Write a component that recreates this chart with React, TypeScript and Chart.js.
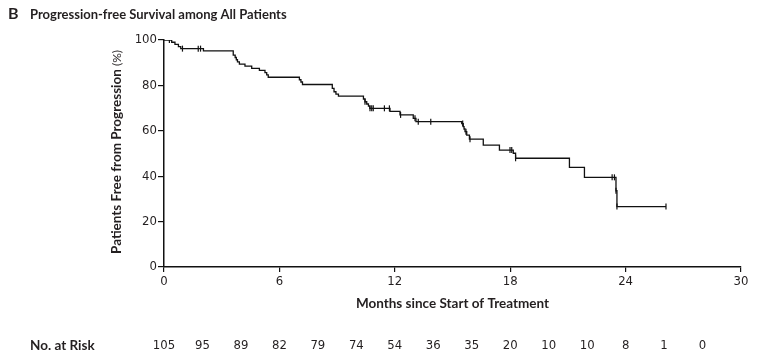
import React, { useEffect, useRef } from "react";
import { Chart, registerables } from "chart.js";

Chart.register(...registerables);

// ---- data ----
const stepTimes = [0, 0.40, 0.57, 0.75, 0.87, 2.05, 3.60, 3.70, 3.76, 3.82, 3.92, 4.21, 4.56, 4.96, 5.25, 5.34, 5.42, 7.04, 7.12, 7.20, 8.75, 8.84, 8.94, 9.07, 10.37, 10.45, 10.54, 10.63, 10.70, 11.75, 12.27, 12.96, 13.10, 15.48, 15.56, 15.60, 15.65, 15.74, 15.88, 16.60, 17.44, 18.16, 18.28, 21.08, 21.86, 23.50, 23.55, 26.10];
const stepSurvival = [100, 99.0, 98.1, 97.1, 96.2, 95.2, 93.3, 92.3, 91.3, 90.4, 89.4, 88.5, 87.5, 86.6, 85.6, 84.6, 83.6, 82.5, 81.5, 80.4, 78.7, 77.2, 76.2, 75.3, 74.0, 72.8, 71.8, 70.9, 69.9, 68.6, 67.0, 65.5, 64.0, 63.2, 61.8, 60.8, 59.6, 58.1, 56.3, 53.7, 51.5, 50.1, 47.9, 43.9, 39.5, 33.6, 26.6, 26.6];

const censorTimes = [0.28, 0.96, 1.78, 1.90, 10.45, 10.71, 10.80, 10.88, 11.46, 11.72, 12.30, 13.05, 13.22, 13.87, 15.53, 15.70, 15.91, 17.99, 18.08, 18.28, 23.30, 23.42, 23.50, 23.55, 26.10];
const censorSurvival = [100, 96.2, 96.2, 96.2, 72.8, 69.9, 69.9, 69.9, 69.9, 69.9, 67.0, 65.5, 64.0, 64.0, 63.2, 59.6, 56.3, 51.5, 51.5, 47.9, 39.5, 39.5, 33.6, 26.6, 26.6];

const riskMonths = [0, 2, 4, 6, 8, 10, 12, 14, 16, 18, 20, 22, 24, 26, 28];
const riskCounts = [105, 95, 89, 82, 79, 74, 54, 36, 35, 20, 10, 10, 8, 1, 0];

const panelLetter = "B";
const titleText = "Progression-free Survival among All Patients";
const xTitle = "Months since Start of Treatment";
const yTitleBold = "Patients Free from Progression";
const yTitleNormal = " (%)";
const riskLabel = "No. at Risk";

const NARROW = "'Liberation Sans Narrow', 'DejaVu Sans Condensed', 'Arial Narrow', sans-serif";
const BOLD = "Lato, 'Open Sans', sans-serif";
const INK = "#231f20";

const textPlugin = {
  id: "kmText",
  afterDraw(chart: any) {
    const ctx = chart.ctx as CanvasRenderingContext2D;
    const xs = chart.scales.x;
    ctx.save();
    ctx.fillStyle = INK;
    ctx.textBaseline = "alphabetic";
    ctx.textAlign = "left";
    ctx.font = `bold 16px ${BOLD}`;
    ctx.fillText(panelLetter, 8, 19);
    ctx.font = `bold 13px ${BOLD}`;
    ctx.fillText(titleText, 30, 19);

    ctx.textAlign = "center";
    ctx.font = `bold 13.5px ${BOLD}`;
    ctx.fillText(xTitle, (xs.left + xs.right) / 2, 308);

    // y title
    ctx.save();
    ctx.translate(117, 152);
    ctx.rotate(-Math.PI / 2);
    ctx.textBaseline = "middle";
    ctx.font = `bold 13.5px ${BOLD}`;
    const wb = ctx.measureText(yTitleBold).width;
    ctx.font = `12px ${BOLD}`;
    const wn = ctx.measureText(yTitleNormal).width;
    const start = -(wb + wn) / 2;
    ctx.textAlign = "left";
    ctx.font = `bold 13.5px ${BOLD}`;
    ctx.fillText(yTitleBold, start, 0);
    ctx.font = `12px ${BOLD}`;
    ctx.fillText(yTitleNormal, start + wb, 0);
    ctx.restore();

    // risk table
    ctx.textBaseline = "middle";
    ctx.textAlign = "left";
    ctx.font = `bold 13.5px ${BOLD}`;
    ctx.fillText(riskLabel, 30, 346);
    ctx.textAlign = "center";
    ctx.font = `13px ${NARROW}`;
    riskMonths.forEach((m, i) => {
      ctx.fillText(String(riskCounts[i]), xs.getPixelForValue(m), 346);
    });
    ctx.restore();
  },
};

export default function App() {
  const ref = useRef<HTMLCanvasElement>(null);
  useEffect(() => {
    document.body.style.margin = "0";
    const canvas = ref.current!;
    const chart = new Chart(canvas, {
      type: "line",
      data: {
        datasets: [
          {
            data: stepTimes.map((t, i) => ({ x: t, y: stepSurvival[i] })),
            borderColor: "#111",
            borderWidth: 1.3,
            stepped: "before",
            pointRadius: 0,
            fill: false,
          },
          {
            data: censorTimes.map((t, i) => ({ x: t, y: censorSurvival[i] })),
            showLine: false,
            pointStyle: "line",
            rotation: 90,
            pointRadius: 3,
            borderColor: "#111",
            borderWidth: 1.2,
          } as any,
        ],
      },
      options: {
        responsive: false,
        animation: false,
        devicePixelRatio: 1,
        layout: { padding: { top: 40, right: 24, left: 0, bottom: 0 } },
        plugins: { legend: { display: false }, tooltip: { enabled: false }, title: { display: false } },
        scales: {
          x: {
            type: "linear",
            min: 0,
            max: 30,
            ticks: { stepSize: 6, color: INK, font: { family: NARROW, size: 13 }, padding: 2, maxRotation: 0 },
            grid: { drawOnChartArea: false, drawTicks: true, tickLength: 5, color: "#111", lineWidth: 1.2 },
            border: { display: true, color: "#111", width: 1.5 },
            afterFit: (s: any) => { s.height = 95; },
          },
          y: {
            type: "linear",
            min: 0,
            max: 100,
            ticks: { stepSize: 20, color: INK, font: { family: NARROW, size: 13 }, padding: 1 },
            grid: { drawOnChartArea: false, drawTicks: true, tickLength: 6, color: "#111", lineWidth: 1.2 },
            border: { display: true, color: "#111", width: 1.5 },
            afterFit: (s: any) => { s.width = 164; },
          },
        },
      },
      plugins: [textPlugin],
    });
    return () => chart.destroy();
  }, []);
  return (
    <div style={{ position: "fixed", left: 0, top: 0, width: 765, height: 362, background: "#fff" }}>
      <canvas ref={ref} width={765} height={362} style={{ width: 765, height: 362, display: "block" }} />
    </div>
  );
}
